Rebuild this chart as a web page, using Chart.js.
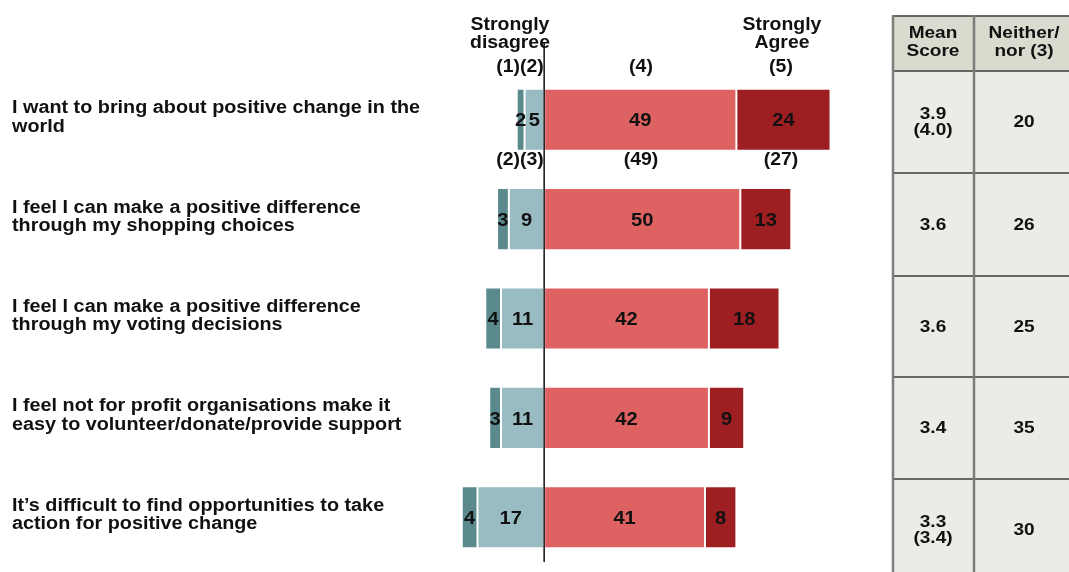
<!DOCTYPE html>
<html>
<head>
<meta charset="utf-8">
<script src="https://cdn.jsdelivr.net/npm/chart.js@4.4.0/dist/chart.umd.min.js"></script>
<style>
  html, body { margin: 0; padding: 0; background: #ffffff; }
  #wrap { width: 1069px; height: 572px; position: relative; }
</style>
</head>
<body>
<div id="wrap"><canvas id="c" width="1069" height="572"></canvas></div>
<script>
// ---- Data ----
const categories = [
  ['I want to bring about positive change in the', 'world'],
  ['I feel I can make a positive difference', 'through my shopping choices'],
  ['I feel I can make a positive difference', 'through my voting decisions'],
  ['I feel not for profit organisations make it', 'easy to volunteer/donate/provide support'],
  ['It\u2019s difficult to find opportunities to take', 'action for positive change']
];
const stronglyDisagree = [2, 3, 4, 3, 4];
const disagree = [5, 9, 11, 11, 17];
const agree = [49, 50, 42, 42, 41];
const stronglyAgree = [24, 13, 18, 9, 8];
const meanScore = ['3.9', '3.6', '3.6', '3.4', '3.3'];
const meanScorePrev = ['(4.0)', null, null, null, '(3.4)'];
const neitherNor = [20, 26, 25, 35, 30];
const prevFirstRow = ['(2)(3)', '(49)', '(27)'];
const scaleCodes = ['(1)(2)', '(4)', '(5)'];
const tableHeaders = [['Mean', 'Score'], ['Neither/', 'nor (3)']];

const FONT = '"Liberation Sans", Arial, sans-serif';
function bold(px) { return 'bold ' + px + 'px ' + FONT; }

function drawText(ctx, txt, x, y, px, align, sx) {
  ctx.save();
  ctx.font = bold(px);
  ctx.fillStyle = '#111111';
  ctx.textAlign = align || 'center';
  ctx.textBaseline = 'middle';
  ctx.translate(x, y + 1.5);
  ctx.scale(sx || 1.08, 1);
  ctx.fillText(txt, 0, 0);
  ctx.restore();
}

const decorPlugin = {
  id: 'decor',
  beforeDraw(chart) {
    const ctx = chart.ctx;
    ctx.save();
    ctx.fillStyle = '#d9dbce';
    ctx.fillRect(893, 16, 176, 55);
    ctx.fillStyle = '#ecece6';
    ctx.fillRect(893, 71, 176, 501);
    ctx.restore();
  },
  afterDatasetsDraw(chart) {
    const ctx = chart.ctx;
    const xs = chart.scales.x, ys = chart.scales.y;

    // zero line
    const x0 = xs.getPixelForValue(0);
    ctx.save();
    ctx.strokeStyle = '#111111';
    ctx.lineWidth = 1.5;
    ctx.beginPath();
    ctx.moveTo(x0, 42);
    ctx.lineTo(x0, 562);
    ctx.stroke();
    ctx.restore();

    // data labels inside bars
    chart.data.datasets.forEach((ds, di) => {
      const meta = chart.getDatasetMeta(di);
      meta.data.forEach((bar, i) => {
        const v = Math.abs(ds.data[i]);
        const cx = (bar.x + bar.base) / 2;
        drawText(ctx, String(v), cx, bar.y, 19, 'center', 1.06);
      });
    });

    // left category labels
    categories.forEach((lines, i) => {
      const cy = ys.getPixelForValue(i);
      drawText(ctx, lines[0], 12, cy - 13, 18, 'left', 1.1);
      drawText(ctx, lines[1], 12, cy + 5.5, 18, 'left', 1.1);
    });

    // column headings above bars
    drawText(ctx, 'Strongly', 510, 24, 18);
    drawText(ctx, 'disagree', 510, 42, 18);
    drawText(ctx, 'Strongly', 782, 24, 18);
    drawText(ctx, 'Agree', 782, 42, 18);
    drawText(ctx, scaleCodes[0], 520, 66, 18);
    drawText(ctx, scaleCodes[1], 641, 66, 18);
    drawText(ctx, scaleCodes[2], 781, 66, 18);

    // previous-wave values under first bar
    drawText(ctx, prevFirstRow[0], 520, 159, 18);
    drawText(ctx, prevFirstRow[1], 641, 159, 18);
    drawText(ctx, prevFirstRow[2], 781, 159, 18);

    // table
    const rowsY = [71, 173, 276, 377, 479, 581];
    const c1 = 933, c2 = 1024;
    drawText(ctx, tableHeaders[0][0], c1, 32, 17, 'center', 1.12);
    drawText(ctx, tableHeaders[0][1], c1, 50, 17, 'center', 1.12);
    drawText(ctx, tableHeaders[1][0], c2, 32, 17, 'center', 1.12);
    drawText(ctx, tableHeaders[1][1], c2, 50, 17, 'center', 1.12);
    for (let i = 0; i < 5; i++) {
      const cy = (rowsY[i] + rowsY[i + 1]) / 2 - 1;
      if (meanScorePrev[i]) {
        drawText(ctx, meanScore[i], c1, cy - 8, 17, 'center', 1.12);
        drawText(ctx, meanScorePrev[i], c1, cy + 8, 17, 'center', 1.12);
      } else {
        drawText(ctx, meanScore[i], c1, cy, 17, 'center', 1.12);
      }
      drawText(ctx, String(neitherNor[i]), c2, cy, 17, 'center', 1.12);
    }
    ctx.save();
    ctx.strokeStyle = '#3a3a3a';
    ctx.lineWidth = 1.6;
    [16].concat(rowsY.slice(0, 5)).forEach(y => {
      ctx.beginPath(); ctx.moveTo(893, y); ctx.lineTo(1069, y); ctx.stroke();
    });
    ctx.strokeStyle = '#7d7d7d';
    ctx.lineWidth = 2.5;
    [893, 974].forEach(x => {
      ctx.beginPath(); ctx.moveTo(x, 15); ctx.lineTo(x, 572); ctx.stroke();
    });
    ctx.restore();
  }
};

new Chart(document.getElementById('c'), {
  type: 'bar',
  data: {
    labels: categories.map(c => c.join(' ')),
    datasets: [
      { label: 'Disagree (2)', data: disagree.map(v => -v), backgroundColor: '#98bcc2' },
      { label: 'Strongly disagree (1)', data: stronglyDisagree.map(v => -v), backgroundColor: '#5a898e' },
      { label: 'Agree (4)', data: agree, backgroundColor: '#de6262' },
      { label: 'Strongly agree (5)', data: stronglyAgree, backgroundColor: '#9e1f22' }
    ]
  },
  options: {
    indexAxis: 'y',
    responsive: false,
    animation: false,
    devicePixelRatio: 1,
    layout: { padding: { left: 450, right: 211, top: 70, bottom: 5 } },
    datasets: {
      bar: {
        categoryPercentage: 1,
        barPercentage: 0.625,
        borderWidth: 1,
        borderColor: 'rgba(255,255,255,0.85)',
        borderSkipped: false
      }
    },
    scales: {
      x: { stacked: true, min: -24, max: 80, display: false },
      y: { stacked: true, display: false }
    },
    plugins: {
      legend: { display: false },
      tooltip: { enabled: false }
    }
  },
  plugins: [decorPlugin]
});
</script>
</body>
</html>
